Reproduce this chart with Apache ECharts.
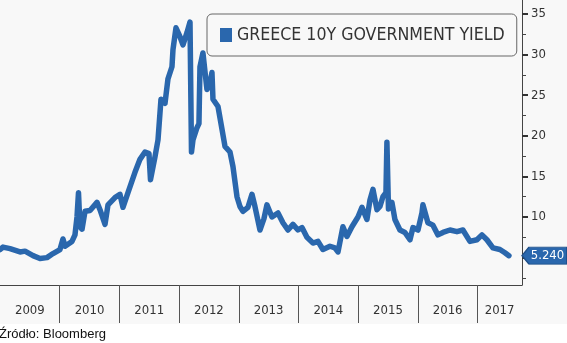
<!DOCTYPE html>
<html>
<head>
<meta charset="utf-8">
<script src="https://cdn.jsdelivr.net/npm/echarts@6/dist/echarts.min.js"></script>
<style>
html,body{margin:0;padding:0;background:#fff;}
#chart{width:567px;height:343px;background:linear-gradient(#f8f8f8 0px,#f8f8f8 324px,#ffffff 324px);}
</style>
</head>
<body>
<div id="chart"></div>
<script>
// Decimal-year time stamps and Greece 10Y yields (%)
const years = [2009.000,2009.050,2009.168,2009.335,2009.419,2009.553,2009.670,2009.787,2009.888,
2010.005,2010.055,2010.089,2010.206,2010.256,2010.290,2010.315,2010.340,2010.374,2010.424,2010.508,2010.625,2010.675,2010.759,2010.809,2010.926,
2011.010,2011.060,2011.144,2011.261,2011.345,2011.429,2011.496,2011.521,2011.546,2011.596,2011.647,2011.697,2011.764,2011.814,2011.881,2011.898,2011.948,
2012.015,2012.065,2012.132,2012.183,2012.208,2012.233,2012.300,2012.333,2012.350,2012.400,2012.467,2012.518,2012.551,2012.568,2012.652,2012.719,2012.769,2012.853,2012.903,2012.970,
2013.020,2013.070,2013.154,2013.221,2013.271,2013.355,2013.422,2013.472,2013.556,2013.657,2013.740,2013.824,2013.908,2013.992,
2014.059,2014.142,2014.243,2014.327,2014.410,2014.528,2014.611,2014.662,2014.745,2014.812,2014.896,2014.997,
2015.064,2015.147,2015.198,2015.248,2015.315,2015.365,2015.415,2015.466,2015.482,2015.508,2015.566,2015.616,2015.700,2015.784,2015.868,2015.918,
2016.002,2016.069,2016.085,2016.169,2016.253,2016.337,2016.420,2016.538,2016.655,2016.755,2016.873,2016.990,
2017.074,2017.157,2017.258,2017.375,2017.459,2017.526];
const yields = [6.0,6.3,6.1,5.7,5.8,5.25,4.9,5.0,5.5,
6.0,7.3,6.4,7.0,7.8,10.0,13.0,8.8,8.5,10.7,10.8,11.8,10.9,9.1,11.5,12.4,
12.8,11.2,13.0,15.5,17.1,18.0,17.8,14.6,14.8,17.4,19.5,24.5,24.0,27.0,28.5,30.6,33.3,
32.2,31.2,32.7,34.0,18.0,19.5,21.0,21.5,28.5,30.2,25.7,26.5,27.8,24.5,23.6,20.8,18.7,18.0,16.2,12.5,
11.3,10.7,11.2,12.8,11.3,8.4,9.8,11.5,10.0,10.5,9.3,8.4,9.1,8.4,
8.7,7.5,6.8,7.0,6.0,6.4,6.2,5.7,8.8,7.6,8.8,10.0,
11.2,9.7,12.1,13.4,10.9,11.3,12.5,13.0,19.2,11.0,11.8,9.7,8.4,8.1,7.2,8.7,
8.4,10.5,11.5,9.3,9.0,7.8,8.1,8.4,8.2,8.4,7.0,7.2,
7.8,7.2,6.2,6.0,5.6,5.24];

const yearLabelPos = [2009.5,2010.5,2011.5,2012.5,2013.5,2014.5,2015.5,2016.5,2017.37];
const yearBounds = [2010,2011,2012,2013,2014,2015,2016,2017];
const yLabels = [10,15,20,25,30,35];
const yMajorTicks = [5,10,15,20,25,30,35];
const yMinorTicks = [2.5,7.5,12.5,17.5,22.5,27.5,32.5];

const X_MIN = 2009, X_MAX = 2017.745, Y_MIN = 1.63, Y_MAX = 36.72;
const BLUE = '#2a67ad';
const FONT = '"DejaVu Sans Condensed", "DejaVu Sans", sans-serif';

const chart = echarts.init(document.getElementById('chart'), null, {renderer:'canvas'});
const lastY = yields[yields.length - 1];

chart.setOption({
  animation: false,
  backgroundColor: 'transparent',
  title: {
    text: 'Źródło: Bloomberg',
    left: -1, bottom: 2, padding: 0,
    textStyle: {fontFamily: '"Liberation Sans", Arial, sans-serif', fontSize: 13, fontWeight: 'normal', color: '#111'}
  },
  legend: {
    show: true,
    left: 207, top: 14,
    padding: [12, 12, 12, 13],
    backgroundColor: '#f8f8f8',
    borderColor: '#666',
    borderWidth: 1,
    borderRadius: 5,
    icon: 'rect',
    itemWidth: 12, itemHeight: 14,
    itemGap: 5,
    textStyle: {fontFamily: FONT, fontSize: 17.6, color: '#333'},
    data: ['GREECE 10Y GOVERNMENT YIELD']
  },
  grid: {left: 0, right: 45, top: 0, bottom: 58, containLabel: false},
  xAxis: {
    type: 'value', min: X_MIN, max: X_MAX,
    axisLine: {show: true, lineStyle: {color: '#444', width: 1}},
    axisTick: {show: true, customValues: yearBounds, length: 38, lineStyle: {color: '#555', width: 1}},
    axisLabel: {show: true, customValues: yearLabelPos, margin: 19,
      fontFamily: FONT, fontSize: 13, color: '#333',
      formatter: v => String(Math.floor(v))},
    splitLine: {show: false}
  },
  yAxis: [{
    type: 'value', position: 'right', min: Y_MIN, max: Y_MAX,
    axisLine: {show: true, lineStyle: {color: '#444', width: 1}},
    axisTick: {show: true, customValues: yMajorTicks, length: 6, lineStyle: {color: '#333', width: 2}},
    axisLabel: {show: true, customValues: yLabels, margin: 9, fontFamily: FONT, fontSize: 13, color: '#333'},
    splitLine: {show: false}
  }, {
    type: 'value', position: 'right', min: Y_MIN, max: Y_MAX,
    axisLine: {show: false},
    axisTick: {show: true, customValues: yMinorTicks, length: 4, lineStyle: {color: '#444', width: 1}},
    axisLabel: {show: false},
    splitLine: {show: false}
  }],
  series: [{
    name: 'GREECE 10Y GOVERNMENT YIELD',
    type: 'line',
    symbol: 'none',
    color: BLUE,
    lineStyle: {color: BLUE, width: 5.5, join: 'round', cap: 'round'},
    data: years.map((t, i) => [t, yields[i]]),
    markPoint: {
      silent: true,
      symbol: 'path://M0,9 L7,0 L45,0 L45,18 L7,18 Z',
      symbolSize: [45, 17],
      symbolKeepAspect: false,
      symbolOffset: [22.5, 0],
      itemStyle: {color: BLUE, borderColor: '#1f4f88', borderWidth: 1},
      label: {show: true, position: 'inside', offset: [3, 0], color: '#fff', fontFamily: FONT, fontSize: 13,
        formatter: p => p.value.toFixed(3)},
      data: [{coord: [X_MAX, lastY], value: lastY}]
    }
  }]
});
</script>
</body>
</html>
